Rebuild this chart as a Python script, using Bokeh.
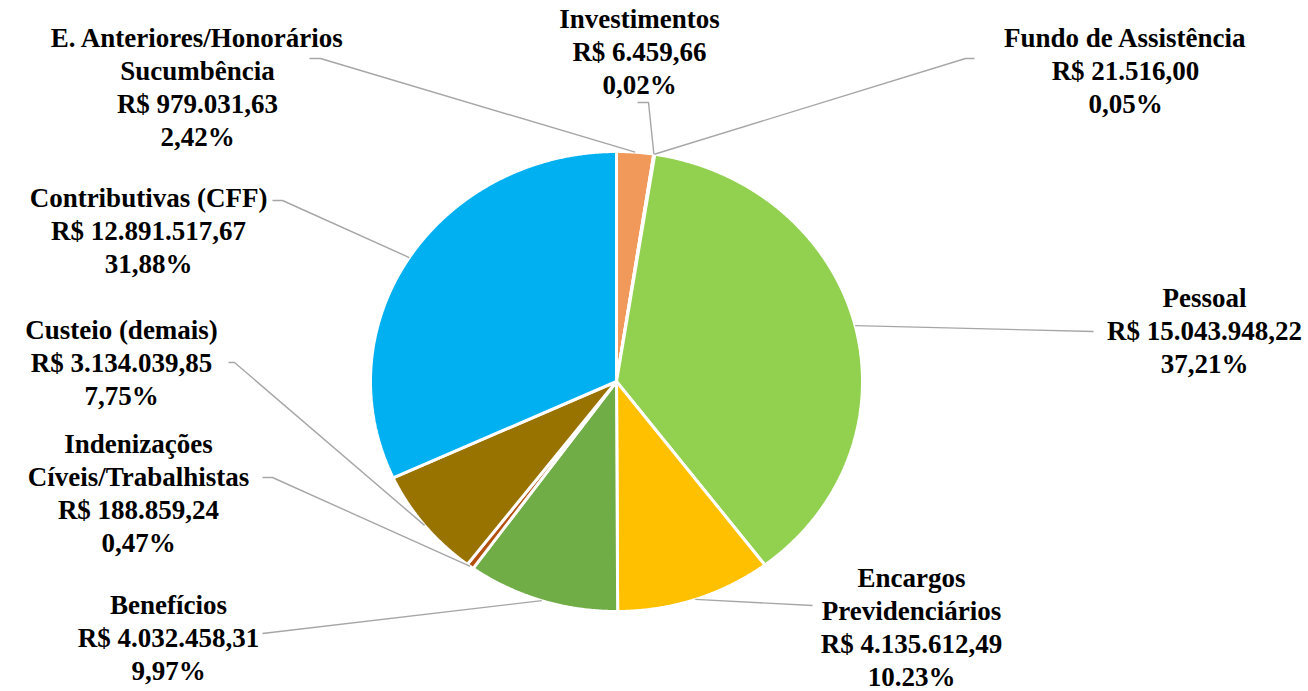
import numpy as np
from bokeh.plotting import figure
from bokeh.models import Range1d, ColumnDataSource
from bokeh.core.properties import value
from bokeh.embed import file_html
from bokeh.resources import INLINE

# ---------------- data ----------------
categories = ["E. Anteriores/Honorários Sucumbência", "Investimentos", "Fundo de Assistência",
              "Pessoal", "Encargos Previdenciários", "Benefícios",
              "Indenizações Cíveis/Trabalhistas", "Custeio (demais)", "Contributivas (CFF)"]
values = [979031.63, 6459.66, 21516.00, 15043948.22, 4135612.49, 4032458.31,
          188859.24, 3134039.85, 12891517.67]
name_lines = [["E. Anteriores/Honorários", "Sucumbência"], ["Investimentos"], ["Fundo de Assistência"],
              ["Pessoal"], ["Encargos", "Previdenciários"], ["Benefícios"],
              ["Indenizações", "Cíveis/Trabalhistas"], ["Custeio (demais)"], ["Contributivas (CFF)"]]
value_labels = ["R$ 979.031,63", "R$ 6.459,66", "R$ 21.516,00", "R$ 15.043.948,22", "R$ 4.135.612,49",
                "R$ 4.032.458,31", "R$ 188.859,24", "R$ 3.134.039,85", "R$ 12.891.517,67"]
percent_labels = ["2,42%", "0,02%", "0,05%", "37,21%", "10.23%", "9,97%", "0,47%", "7,75%", "31,88%"]
colors = ["#F1995B", "#A5A5A5", "#4472C4", "#92D050", "#FFC000", "#70AD47", "#B4500F", "#997300", "#00B0F0"]

# ---------------- layout (screen px) ----------------
W, H = 1308, 691
OFF = 0
CX, CY, RX, RY = 616, 381, 246, 230      # pie centre and radii in page px
label_x = [197, 639, 1125, 1204, 911, 168, 138, 121, 148]
label_y0 = [37, 18, 37, 297, 577, 604, 443, 329, 197]
line_step = 33
leader_pts = [[(320, 58), (309, 58)], [(648, 102), (637, 102)], [(965, 58), (974, 58)],
              [(1093, 331)], [(812, 605)], [(262, 633)],
              [(272, 477), (262, 477)], [(234, 362), (228, 362)], [(282, 200), (272, 200)]]

def X(px):
    return (px - CX) / RX

def Y(py):
    return (CY - py) / RY

p = figure(width=W, height=H, output_backend="svg", toolbar_location=None,
           x_range=Range1d(X(OFF), X(OFF + W)), y_range=Range1d(Y(OFF + H), Y(OFF)),
           x_axis_location=None, y_axis_location=None, min_border=0)
p.grid.visible = False
p.outline_line_color = None

vals = np.array(values)
fr = vals / vals.sum()
cum = np.concatenate([[0], np.cumsum(fr)])
xs, ys = [], []
for i in range(len(vals)):
    n = max(3, int(fr[i] * 1440))
    th = np.linspace(cum[i], cum[i + 1], n) * 2 * np.pi
    xs.append(np.concatenate([[0], np.sin(th)]))
    ys.append(np.concatenate([[0], np.cos(th)]))
p.patches(xs=xs, ys=ys, fill_color=colors, line_color="white", line_width=3)

# leader lines
lx, ly = [], []
for i in range(len(vals)):
    mid = (cum[i] + cum[i + 1]) * np.pi
    px_list = [np.sin(mid)] + [X(a) for a, b in leader_pts[i]]
    py_list = [np.cos(mid)] + [Y(b) for a, b in leader_pts[i]]
    lx.append(px_list)
    ly.append(py_list)
p.multi_line(xs=lx, ys=ly, line_color="#A6A6A6", line_width=1.4)

# labels
tx, ty, tt = [], [], []
for i in range(len(vals)):
    lines = name_lines[i] + [value_labels[i], percent_labels[i]]
    for k, s in enumerate(lines):
        tx.append(X(label_x[i]))
        ty.append(Y(label_y0[i] + k * line_step))
        tt.append(s)
src = ColumnDataSource(dict(x=tx, y=ty, text=tt))
p.text(x="x", y="y", text="text", source=src, text_font=value("Liberation Serif"),
       text_font_style="bold", text_font_size="27px", text_align="center",
       text_baseline="middle", text_color="black")

open("out.html", "w").write(file_html(p, INLINE))
